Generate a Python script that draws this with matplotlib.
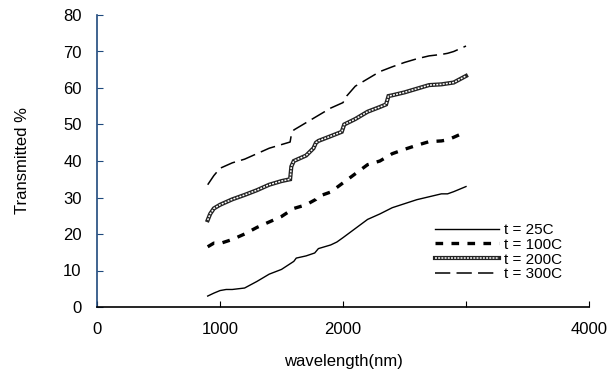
import matplotlib
matplotlib.use("Agg")
import matplotlib.pyplot as plt

plt.rcParams['font.family'] = ['Liberation Sans', 'DejaVu Sans']
plt.rcParams['lines.scale_dashes'] = False

# wavelength (nm) and transmitted %
x25 = [900, 950, 1000, 1050, 1100, 1200, 1300, 1400, 1500, 1600, 1620, 1700, 1770, 1800,
       1900, 1950, 2000, 2100, 2200, 2300, 2400, 2500, 2600, 2700, 2800, 2850, 2900, 3000]
t25 = [3.0, 3.8, 4.5, 4.8, 4.8, 5.2, 7.0, 9.0, 10.3, 12.5, 13.4, 14.0, 14.8, 16.0,
       17.0, 17.8, 19.0, 21.5, 24.0, 25.5, 27.2, 28.3, 29.4, 30.2, 31.0, 31.0, 31.6, 33.0]

x100 = [900, 950, 1000, 1100, 1200, 1300, 1400, 1500, 1600, 1650, 1700, 1780, 1800, 1900,
        2000, 2100, 2200, 2250, 2300, 2400, 2500, 2600, 2700, 2800, 2850, 2900, 3000]
t100 = [16.5, 17.5, 17.4, 18.5, 20.0, 21.8, 23.3, 24.8, 27.0, 27.5, 28.0, 29.5, 30.3, 31.5,
        34.0, 36.5, 39.0, 39.5, 40.0, 42.0, 43.2, 44.3, 45.3, 45.5, 45.8, 46.5, 48.0]

x200 = [900, 920, 950, 1000, 1100, 1200, 1300, 1400, 1500, 1570, 1580, 1600, 1700, 1730,
        1760, 1780, 1800, 1900, 1990, 2010, 2100, 2200, 2300, 2350, 2370, 2400, 2500, 2600,
        2700, 2800, 2900, 3000]
t200 = [23.8, 25.5, 27.0, 28.0, 29.5, 30.7, 32.0, 33.5, 34.5, 35.0, 38.5, 40.0, 41.5, 42.5,
        43.5, 45.0, 45.5, 46.8, 48.0, 50.0, 51.5, 53.5, 54.8, 55.5, 57.8, 58.0, 58.8, 59.8,
        60.8, 61.0, 61.5, 63.3]

x300 = [900, 950, 1000, 1100, 1200, 1300, 1400, 1500, 1570, 1580, 1600, 1700, 1800, 1900,
        2000, 2030, 2100, 2200, 2300, 2400, 2500, 2600, 2700, 2800, 2850, 2900, 3000]
t300 = [33.5, 36.0, 38.0, 39.5, 40.5, 42.0, 43.5, 44.5, 45.2, 47.2, 48.5, 50.5, 52.5, 54.5,
        56.0, 57.8, 60.5, 62.5, 64.5, 65.8, 67.0, 68.0, 68.8, 69.2, 69.5, 70.0, 71.5]

labels = ['t = 25C', 't = 100C', 't = 200C', 't = 300C']

fig = plt.figure(figsize=(6.09, 3.83), dpi=100)
ax = fig.add_axes([97/609, 1-307/383, (589-97)/609, (307-15)/383])

h25, = ax.plot(x25, t25, color='black', lw=1.0)
h100, = ax.plot(x100, t100, color='black', lw=2.4, dashes=(5.5, 6))
# chain of small hollow squares: thick dark line with a broken white core
h200a, = ax.plot(x200, t200, color='#222222', lw=3.0, solid_joinstyle='miter')
h200b, = ax.plot(x200, t200, color='white', lw=1.1, dashes=(1.4, 0.9))
h300, = ax.plot(x300, t300, color='black', lw=1.1, dashes=(11, 4.5))

ax.set_xlim(0, 4000)
ax.set_ylim(0, 80)
ax.set_xticks([0, 1000, 2000, 3000, 4000])
ax.set_xticklabels(['0', '1000', '2000', '', '4000'])
ax.set_yticks(range(0, 81, 10))
ax.tick_params(direction='in', length=4, labelsize=12)
ax.tick_params(axis='x', pad=11)
ax.tick_params(axis='y', pad=11, colors='#1f497d', labelcolor='black')
ax.spines['top'].set_visible(False)
ax.spines['right'].set_visible(False)
ax.spines['left'].set_color('#1f497d')
ax.spines['left'].set_linewidth(1.2)
ax.spines['bottom'].set_linewidth(1.2)

ax.set_xlabel('wavelength(nm)', fontsize=12, labelpad=12)
ax.set_ylabel('Transmitted %', fontsize=12, labelpad=24)

fig.legend([h25, h100, (h200a, h200b), h300], labels, loc='upper left',
           bbox_to_anchor=(435/609, 1-223/383), frameon=False,
           fontsize=11, handlelength=4.2, handletextpad=0.3, labelspacing=0.05,
           borderpad=0, borderaxespad=0)

fig.savefig('out.png', dpi=100)
